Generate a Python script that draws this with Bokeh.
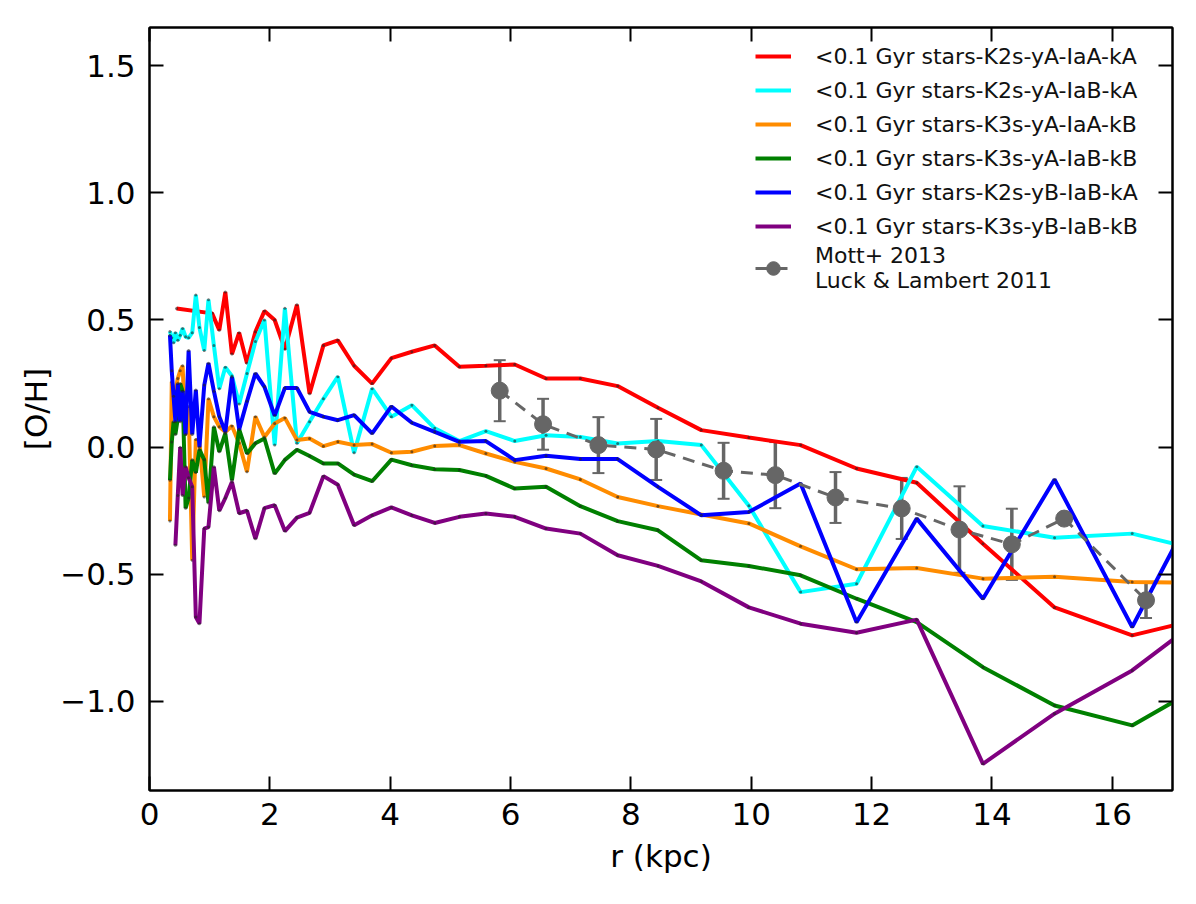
import numpy as np
from bokeh.plotting import figure
from bokeh.models import (ColumnDataSource, Range1d, FixedTicker, LinearAxis, Legend, LegendItem,
                          Whisker, TeeHead, CustomJSTickFormatter)
from bokeh.embed import file_html
from bokeh.resources import INLINE

nan = np.nan

# ---------------- data ----------------
R = [0.34, 0.37, 0.40, 0.43, 0.47, 0.51, 0.55, 0.60, 0.65, 0.71, 0.77, 0.83, 0.91, 0.98, 1.07, 1.16,
     1.26, 1.37, 1.49, 1.62, 1.76, 1.91, 2.08, 2.25, 2.45, 2.66, 2.89, 3.13, 3.40, 3.70, 4.02, 4.36,
     4.74, 5.15, 5.59, 6.07, 6.59, 7.16, 7.78, 8.45, 9.17, 9.96, 10.82, 11.75, 12.75, 13.85, 15.04,
     16.33, 17.73]

red_r = [0.45, 1.04, 1.16, 1.26, 1.37, 1.49, 1.62, 1.76, 1.91, 2.08, 2.25, 2.45, 2.66, 2.89, 3.13,
         3.40, 3.70, 4.02, 4.36, 4.74, 5.15, 5.59, 6.07, 6.59, 7.16, 7.78, 8.45, 9.17, 9.96, 10.82,
         11.75, 12.75, 13.85, 15.04, 16.33, 17.73]
red_oh = [0.545, 0.526, 0.46, 0.61, 0.366, 0.45, 0.33, 0.454, 0.535, 0.50, 0.385, 0.56, 0.21, 0.40,
          0.42, 0.32, 0.25, 0.35, 0.375, 0.40, 0.316, 0.32, 0.325, 0.27, 0.27, 0.24, 0.155, 0.067,
          0.038, 0.008, -0.084, -0.14, -0.38, -0.63, -0.74, -0.66]

cyan_oh = [0.455, 0.43, 0.41, 0.45, 0.42, 0.44, 0.467, 0.434, 0.43, 0.45, 0.598, 0.47, 0.38, 0.58,
           0.40, 0.23, 0.314, 0.28, 0.17, 0.29, 0.415, 0.50, 0.008, 0.546, 0.015, 0.10, 0.19, 0.277,
           -0.022, 0.23, 0.12, 0.165, 0.074, 0.024, 0.063, 0.024, 0.047, 0.04, 0.014, 0.024, 0.008,
           -0.23, -0.57, -0.537, -0.077, -0.31, -0.356, -0.34, -0.42]

orange_oh = [-0.29, 0.257, 0.20, 0.22, 0.27, 0.30, 0.32, 0.05, 0.16, -0.445, 0.03, 0.02, -0.196,
             0.19, 0.12, 0.08, 0.06, 0.083, 0.015, -0.097, 0.12, 0.04, 0.093, 0.115, 0.028, 0.034,
             0.004, 0.021, 0.008, 0.012, -0.022, -0.018, 0.005, 0.008, -0.025, -0.058, -0.084,
             -0.127, -0.196, -0.232, -0.265, -0.30, -0.39, -0.48, -0.475, -0.517, -0.51, -0.53,
             -0.535]

green_oh = [-0.13, 0.02, 0.10, 0.05, 0.113, 0.25, 0.22, -0.24, -0.20, -0.05, -0.10, -0.01, -0.05,
            -0.22, 0.08, -0.018, 0.054, -0.13, 0.07, -0.025, 0.015, 0.034, -0.104, -0.05, -0.01,
            -0.035, -0.064, -0.064, -0.108, -0.134, -0.049, -0.071, -0.087, -0.09, -0.113, -0.163,
            -0.156, -0.232, -0.291, -0.327, -0.445, -0.467, -0.504, -0.596, -0.688, -0.865, -1.016,
            -1.094, -0.905]

blue_oh = [0.44, 0.30, 0.20, 0.10, 0.25, 0.10, 0.22, 0.05, 0.38, 0.05, 0.225, 0.0, 0.244, 0.33,
           0.22, 0.12, 0.06, 0.276, 0.07, 0.18, 0.29, 0.237, 0.124, 0.233, 0.233, 0.139, 0.12,
           0.106, 0.126, 0.054, 0.16, 0.096, 0.06, 0.021, 0.024, -0.051, -0.034, -0.047, -0.047,
           -0.156, -0.268, -0.255, -0.143, -0.688, -0.281, -0.596, -0.127, -0.707, -0.075]

purple_oh = [nan, nan, nan, -0.386, -0.19, 0.0, -0.19, -0.077, -0.12, -0.156, -0.668, -0.694,
             -0.32, -0.314, -0.077, -0.25, -0.20, -0.137, -0.26, -0.25, -0.36, -0.24, -0.228,
             -0.33, -0.277, -0.258, -0.114, -0.148, -0.307, -0.268, -0.237, -0.268, -0.298,
             -0.274, -0.261, -0.274, -0.32, -0.34, -0.425, -0.467, -0.528, -0.63, -0.694, -0.73,
             -0.678, -1.245, -1.048, -0.878, -0.626]

obs_r = [5.82, 6.54, 7.46, 8.42, 9.54, 10.40, 11.40, 12.50, 13.46, 14.33, 15.20, 16.56]
obs_oh = [0.222, 0.09, 0.008, -0.009, -0.093, -0.11, -0.198, -0.241, -0.324, -0.382, -0.281, -0.602]
obs_err = [0.12, 0.10, 0.11, 0.12, 0.11, 0.13, 0.10, 0.12, 0.17, 0.14, 0.015, 0.07]

series_labels = ["<0.1 Gyr stars-K2s-yA-IaA-kA", "<0.1 Gyr stars-K2s-yA-IaB-kA",
                 "<0.1 Gyr stars-K3s-yA-IaA-kB", "<0.1 Gyr stars-K3s-yA-IaB-kB",
                 "<0.1 Gyr stars-K2s-yB-IaB-kA", "<0.1 Gyr stars-K3s-yB-IaB-kB"]
series_colors = ["#ff0000", "#00ffff", "#ff8c00", "#008000", "#0000ff", "#800080"]
obs_label = "Mott+ 2013\nLuck & Lambert 2011"
x_ticks = [0, 2, 4, 6, 8, 10, 12, 14, 16]
y_ticks = [-1.0, -0.5, 0.0, 0.5, 1.0, 1.5]

FONT = "DejaVu Sans"

p = figure(width=1188, height=896, output_backend="svg", toolbar_location=None,
           x_range=Range1d(0, 17), y_range=Range1d(-1.35, 1.65),
           min_border_left=149, min_border_right=16, min_border_top=27, min_border_bottom=106)
p.xgrid.visible = False
p.ygrid.visible = False
p.outline_line_color = "black"
p.outline_line_width = 2
p.background_fill_color = "white"
p.border_fill_color = "white"

xt = FixedTicker(ticks=x_ticks)
yt = FixedTicker(ticks=y_ticks)
yfmt = CustomJSTickFormatter(code="return tick.toFixed(1).replace('-', '\u2212');")
blank = CustomJSTickFormatter(code="return '';")

def style_axis(ax):
    ax.axis_line_width = 2
    ax.axis_line_color = "black"
    ax.major_tick_in = 14
    ax.major_tick_out = 0
    ax.major_tick_line_width = 2
    ax.minor_tick_line_color = None
    ax.major_label_text_font = FONT
    ax.major_label_text_font_size = "31px"
    ax.major_label_text_color = "black"
    ax.axis_label_text_font = FONT
    ax.axis_label_text_font_size = "31px"
    ax.axis_label_text_font_style = "normal"
    ax.axis_label_text_color = "black"

p.xaxis.ticker = xt
p.yaxis.ticker = yt
p.yaxis.formatter = yfmt
p.xaxis.axis_label = "r (kpc)"
p.yaxis.axis_label = "[O/H]"
style_axis(p.xaxis[0])
style_axis(p.yaxis[0])
p.xaxis.major_label_standoff = 12
p.yaxis.major_label_standoff = 14
p.xaxis.axis_label_standoff = 10
p.yaxis.axis_label_standoff = 3

ax_top = LinearAxis(ticker=xt, formatter=blank)
style_axis(ax_top)
ax_top.major_label_standoff = 0
p.add_layout(ax_top, "above")
ax_right = LinearAxis(ticker=yt, formatter=blank)
style_axis(ax_right)
ax_right.major_label_standoff = 0
p.add_layout(ax_right, "right")

all_vals = [None, cyan_oh, orange_oh, green_oh, blue_oh, purple_oh]
items = []
for i, (lab, col) in enumerate(zip(series_labels, series_colors)):
    if i == 0:
        xs, ys = red_r, red_oh
    else:
        xs, ys = R, all_vals[i]
    src = ColumnDataSource(dict(x=np.array(xs, dtype=float), y=np.array(ys, dtype=float)))
    ln = p.line("x", "y", source=src, line_color=col, line_width=4)
    p.scatter("x", "y", source=src, size=3, fill_color="#222222", line_color=None, fill_alpha=0.6)
    items.append(LegendItem(label=lab, renderers=[ln]))

GRAY = "#666666"
obs_src = ColumnDataSource(dict(x=obs_r, y=obs_oh,
                                lo=[v - e for v, e in zip(obs_oh, obs_err)],
                                hi=[v + e for v, e in zip(obs_oh, obs_err)]))
obs_line = p.line("x", "y", source=obs_src, line_color=GRAY, line_width=3, line_dash="12 8")
wh = Whisker(source=obs_src, base="x", lower="lo", upper="hi", dimension="height",
             line_color=GRAY, line_width=3.5,
             upper_head=TeeHead(size=12, line_color=GRAY, line_width=2),
             lower_head=TeeHead(size=12, line_color=GRAY, line_width=2))
p.add_layout(wh)
obs_pts = p.scatter("x", "y", source=obs_src, size=17, marker="circle", fill_color=GRAY,
                    line_color=GRAY)
items.append(LegendItem(label=obs_label, renderers=[obs_line, obs_pts]))

legend = Legend(items=items, location=(606, 497))
legend.label_text_font = FONT
legend.label_text_font_size = "22px"
legend.label_text_color = "#111111"
legend.glyph_width = 36
legend.glyph_height = 34
legend.label_standoff = 24
legend.spacing = 0
legend.padding = 0
legend.margin = 0
legend.border_line_color = None
legend.background_fill_alpha = 0
p.add_layout(legend, "center")

html = file_html(p, INLINE)
open("out.html", "w").write(html)
